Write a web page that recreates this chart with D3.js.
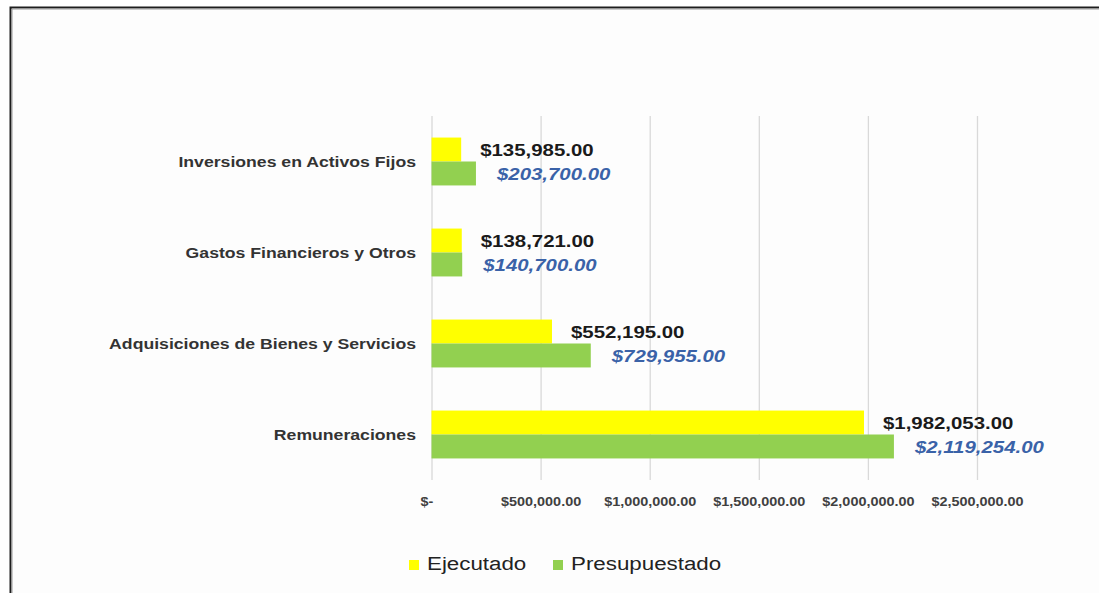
<!DOCTYPE html>
<html>
<head>
<meta charset="utf-8">
<script src="https://cdn.jsdelivr.net/npm/d3@7"></script>
<style>
  html, body { margin: 0; padding: 0; background: #fff; }
  text { font-family: "Liberation Sans", Arial, sans-serif; }
</style>
</head>
<body>
<div id="chart"></div>
<script>
const width = 1099;
const height = 593;
const plot = {top: 116, bottom: 480, left: 431.5, right: 977};

// datos
const categories = ["Remuneraciones", "Adquisiciones de Bienes y Servicios", "Gastos Financieros y Otros", "Inversiones en Activos Fijos"];
const ejecutado = [1982053, 552195, 138721, 135985];
const presupuestado = [2119254, 729955, 140700, 203700];
const tickValues = [0, 500000, 1000000, 1500000, 2000000, 2500000];
const tickLabels = ["$-", "$500,000.00", "$1,000,000.00", "$1,500,000.00", "$2,000,000.00", "$2,500,000.00"];
const seriesNames = ["Ejecutado", "Presupuestado"];
const seriesColors = ["#ffff00", "#92d050"];

const fmt = d3.format("$,.2f");

const svg = d3.select("#chart")
    .append("svg")
    .attr("width", width)
    .attr("height", height);

// el texto de la imagen original está estirado a lo ancho
function stretch(sel, k, adjust) {
    sel.each(function() {
        const w = this.getComputedTextLength();
        d3.select(this)
            .attr("textLength", w * k)
            .attr("lengthAdjust", adjust || "spacingAndGlyphs");
    });
}

// marco
svg.append("rect").attr("x", 10).attr("y", 7).attr("width", width).attr("height", height)
    .attr("fill", "#fdfdfd");
svg.append("path")
    .attr("d", `M10.5,${height} V7.5 H${width}`)
    .attr("fill", "none").attr("stroke", "#1e1e1e").attr("stroke-width", 2);
svg.append("path")
    .attr("d", `M12,${height} V9 H${width}`)
    .attr("fill", "none").attr("stroke", "#9a9a9a").attr("stroke-width", 1);

const x = d3.scaleLinear().domain([0, 2500000]).range([plot.left, plot.right]);
const y = d3.scaleBand().domain(categories).range([plot.bottom, plot.top]);
const barH = y.bandwidth() / 1.9 / 2;

// eje X con líneas de cuadrícula
const xAxis = d3.axisBottom(x)
    .tickValues(tickValues)
    .tickFormat((d, i) => tickLabels[i])
    .tickSize(-(plot.bottom - plot.top));

const gx = svg.append("g")
    .attr("class", "axis x-axis")
    .attr("transform", `translate(0,${plot.bottom})`)
    .call(xAxis);
gx.select(".domain").remove();
gx.selectAll("line").attr("stroke", "#d9d9d9").attr("stroke-width", 1.3);
gx.selectAll("text")
    .attr("y", 17)
    .attr("fill", "#404040")
    .style("font-size", "12px")
    .style("font-weight", "bold")
    .call(stretch, 1.2);
gx.selectAll(".tick").filter(d => d === 0).select("text").attr("dx", -5);

// barras
const series = [ejecutado, presupuestado];
series.forEach((vals, s) => {
    svg.selectAll(".bar-" + s)
        .data(categories)
        .join("rect")
        .attr("class", "bar-" + s)
        .attr("x", x(0))
        .attr("y", d => y(d) + y.bandwidth() / 2 - barH + s * barH)
        .attr("width", (d, i) => x(vals[i]) - x(0))
        .attr("height", barH)
        .attr("fill", seriesColors[s]);
});

// etiquetas de datos
svg.selectAll(".lbl-0")
    .data(categories)
    .join("text")
    .attr("class", "lbl-0")
    .attr("x", (d, i) => x(ejecutado[i]) + 19)
    .attr("y", d => y(d) + y.bandwidth() / 2 - barH / 2 + 6.5)
    .attr("fill", "#1a1a1a")
    .style("font-size", "17px")
    .style("font-weight", "bold")
    .text((d, i) => fmt(ejecutado[i]))
    .call(stretch, 1.2);

svg.selectAll(".lbl-1")
    .data(categories)
    .join("text")
    .attr("class", "lbl-1")
    .attr("x", (d, i) => x(presupuestado[i]) + 21)
    .attr("y", d => y(d) + y.bandwidth() / 2 + barH / 2 + 6.5)
    .attr("fill", "#3a62a8")
    .style("font-size", "17px")
    .style("font-weight", "bold")
    .style("font-style", "italic")
    .text((d, i) => fmt(presupuestado[i]))
    .call(stretch, 1.2);

// etiquetas de categorías
svg.selectAll(".cat-label")
    .data(categories)
    .join("text")
    .attr("class", "cat-label")
    .attr("x", 416)
    .attr("y", d => y(d) + y.bandwidth() / 2 + 5)
    .attr("text-anchor", "end")
    .attr("fill", "#333")
    .style("font-size", "14px")
    .style("font-weight", "bold")
    .text(d => d)
    .call(stretch, 1.26);

// leyenda
const legendX = [409, 553];
seriesNames.forEach((name, i) => {
    svg.append("rect")
        .attr("x", legendX[i]).attr("y", 560)
        .attr("width", 10).attr("height", 10)
        .attr("fill", seriesColors[i]);
    svg.append("text")
        .attr("x", legendX[i] + 18).attr("y", 569.5)
        .attr("fill", "#222")
        .style("font-size", "18px")
        .text(name)
        .call(stretch, 1.24);
});
</script>
</body>
</html>
